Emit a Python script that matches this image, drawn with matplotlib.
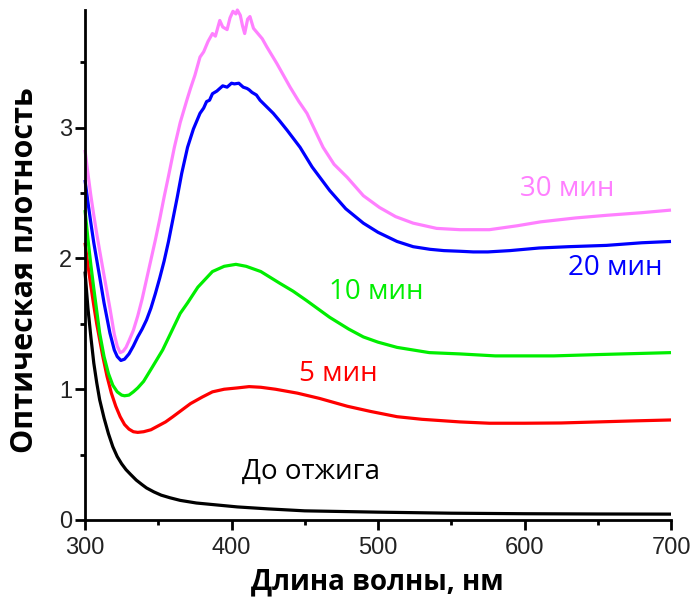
import numpy as np
import matplotlib
matplotlib.use("Agg")
import matplotlib.pyplot as plt
from matplotlib.ticker import MultipleLocator


# spectra (wavelength nm, optical density)
wl_black = [300, 302, 304, 306, 308, 310, 313, 316, 319, 322, 325, 328, 331, 335, 339, 342,
            347, 352, 358, 365, 376, 390, 404, 425, 450, 475, 500, 550, 600, 650, 700]
od_black = [1.9, 1.62, 1.4, 1.2, 1.05, 0.92, 0.78, 0.66, 0.56, 0.485, 0.43, 0.385, 0.35, 0.305, 0.27, 0.245,
            0.215, 0.19, 0.17, 0.15, 0.13, 0.115, 0.10, 0.085, 0.07, 0.065, 0.06, 0.052, 0.048, 0.046, 0.045]

wl_red = [300, 302, 304, 306, 308, 310, 312, 315, 318, 321, 324, 327, 330, 333, 336, 340, 345, 350,
          355, 360, 366, 372, 380, 387, 395, 404, 412, 420, 430, 445, 460, 479, 495, 513, 530, 556,
          576, 600, 625, 650, 675, 700]
od_red = [2.12, 1.95, 1.79, 1.64, 1.5, 1.38, 1.26, 1.1, 0.97, 0.87, 0.79, 0.73, 0.695, 0.675, 0.67, 0.675, 0.69, 0.72,
          0.75, 0.79, 0.84, 0.89, 0.94, 0.98, 1.0, 1.01, 1.02, 1.015, 1.0, 0.97, 0.93, 0.87, 0.83, 0.79, 0.77, 0.75,
          0.74, 0.74, 0.742, 0.75, 0.758, 0.765]

wl_green = [300, 302, 304, 306, 308, 310, 313, 316, 319, 322, 325, 327, 330, 333, 336, 340, 346, 353,
            359, 365, 370, 377, 387, 395, 403, 410, 420, 433, 442, 451, 467, 480, 490, 500, 513, 535,
            556, 580, 620, 650, 700]
od_green = [2.37, 2.15, 1.95, 1.77, 1.6, 1.43, 1.25, 1.12, 1.03, 0.98, 0.955, 0.95, 0.955, 0.98, 1.01, 1.06, 1.17, 1.3,
            1.44, 1.58, 1.66, 1.78, 1.9, 1.94, 1.955, 1.94, 1.9, 1.81, 1.75, 1.68, 1.55, 1.46, 1.4, 1.36, 1.32, 1.28,
            1.27, 1.255, 1.255, 1.265, 1.28]

wl_blue = [300, 302, 304, 306, 308, 310, 313, 317, 320, 322, 324.5, 327, 330, 333, 336, 339, 342, 345,
           348, 351, 354, 357, 360, 363, 366, 370, 374, 378.5, 381, 383, 385, 387, 390, 392, 394, 397,
           400, 402, 405, 408, 410.6, 412, 414, 417, 419.5, 424, 428.5, 433, 438, 446.8, 455, 467, 478,
           490, 500, 513, 524, 535.5, 545, 556, 565, 575, 590, 610, 630, 656, 680, 700]
od_blue = [2.6, 2.43, 2.27, 2.12, 1.99, 1.86, 1.66, 1.43, 1.3, 1.25, 1.22, 1.23, 1.27, 1.33, 1.4, 1.46, 1.53, 1.62,
           1.73, 1.85, 1.98, 2.13, 2.3, 2.47, 2.65, 2.85, 2.99, 3.11, 3.15, 3.2, 3.21, 3.26, 3.28, 3.3, 3.32, 3.31,
           3.34, 3.335, 3.34, 3.31, 3.3, 3.29, 3.27, 3.25, 3.21, 3.16, 3.11, 3.05, 2.98, 2.85, 2.7, 2.52, 2.38,
           2.27, 2.2, 2.13, 2.09, 2.07, 2.06, 2.055, 2.05, 2.05, 2.06, 2.08, 2.09, 2.10, 2.12, 2.13]

wl_pink = [300, 302, 304, 306, 308, 310, 313, 317, 320, 322, 324, 326, 328, 330, 333, 336, 339, 342,
           345, 348, 351, 354, 357, 361, 365, 369.5, 372, 375, 378.5, 381, 384, 387, 389, 392, 394, 397,
           399, 401, 403, 404, 406, 407.5, 409, 411, 412.6, 415, 418, 421, 424, 431, 435, 440, 446, 451.5,
           457, 462.5, 470, 479, 490, 501, 512, 524, 540, 556, 576, 595, 611, 635, 656, 680, 700]
od_pink = [2.83, 2.65, 2.48, 2.33, 2.19, 2.06, 1.87, 1.62, 1.42, 1.33, 1.28, 1.29, 1.32, 1.37, 1.45, 1.56, 1.69, 1.84,
           1.99, 2.14, 2.3, 2.47, 2.63, 2.85, 3.04, 3.21, 3.3, 3.4, 3.54, 3.58, 3.66, 3.72, 3.7, 3.82, 3.77, 3.75,
           3.84, 3.89, 3.87, 3.9, 3.86, 3.78, 3.72, 3.83, 3.85, 3.76, 3.72, 3.68, 3.62, 3.49, 3.41, 3.31, 3.2, 3.11,
           2.98, 2.85, 2.72, 2.62, 2.48, 2.39, 2.32, 2.27, 2.23, 2.22, 2.22, 2.25, 2.28, 2.31, 2.33, 2.35, 2.37]

labels = ["До отжига", "5 мин", "10 мин", "20 мин", "30 мин"]
label_x = [454, 473, 499, 662, 629]
label_y = [0.37, 1.12, 1.74, 1.93, 2.53]
colors = ["black", "#ff0000", "#00ee00", "#0000ff", "#ff80ff"]


fig = plt.figure(figsize=(6.94, 6.01), dpi=100)
ax = fig.add_axes([85 / 694, 81 / 601, 586 / 694, 510 / 601])

series = [(wl_black, od_black), (wl_red, od_red), (wl_green, od_green),
          (wl_blue, od_blue), (wl_pink, od_pink)]
for (w, d), c in zip(series, colors):
    ax.plot(w, d, color=c, lw=2.3, solid_capstyle="butt", solid_joinstyle="round", clip_on=False)

for txt, x, y, c in zip(labels, label_x, label_y, colors):
    ax.text(x, y, txt, color=c, fontsize=20, family="Open Sans", ha="center", va="center")

ax.set_xlim(300, 700)
ax.set_ylim(0, 3.9)
ax.xaxis.set_major_locator(MultipleLocator(100))
ax.xaxis.set_minor_locator(MultipleLocator(50))
ax.yaxis.set_major_locator(MultipleLocator(1))
ax.yaxis.set_minor_locator(MultipleLocator(0.5))

for s in ["top", "right"]:
    ax.spines[s].set_visible(False)
for s in ["left", "bottom"]:
    ax.spines[s].set_linewidth(2)

ax.tick_params(which="major", direction="out", length=7, width=2, labelsize=17)
ax.tick_params(which="minor", direction="out", length=3.5, width=2)
ax.tick_params(axis="x", which="major", pad=5)
ax.tick_params(axis="y", which="major", pad=2)
for lab in ax.get_xticklabels() + ax.get_yticklabels():
    lab.set_family("Liberation Sans")
    lab.set_color("#222222")

fig.text(377 / 694, 1 - 582 / 601, "Длина волны, нм", fontsize=20, fontweight="bold",
         family="Open Sans", ha="center", va="center")
fig.text(25 / 694, 1 - 270 / 601, "Оптическая плотность", fontsize=22, fontweight="bold",
         family="Open Sans", ha="center", va="center", rotation=90)

fig.savefig("out.png", dpi=100)
